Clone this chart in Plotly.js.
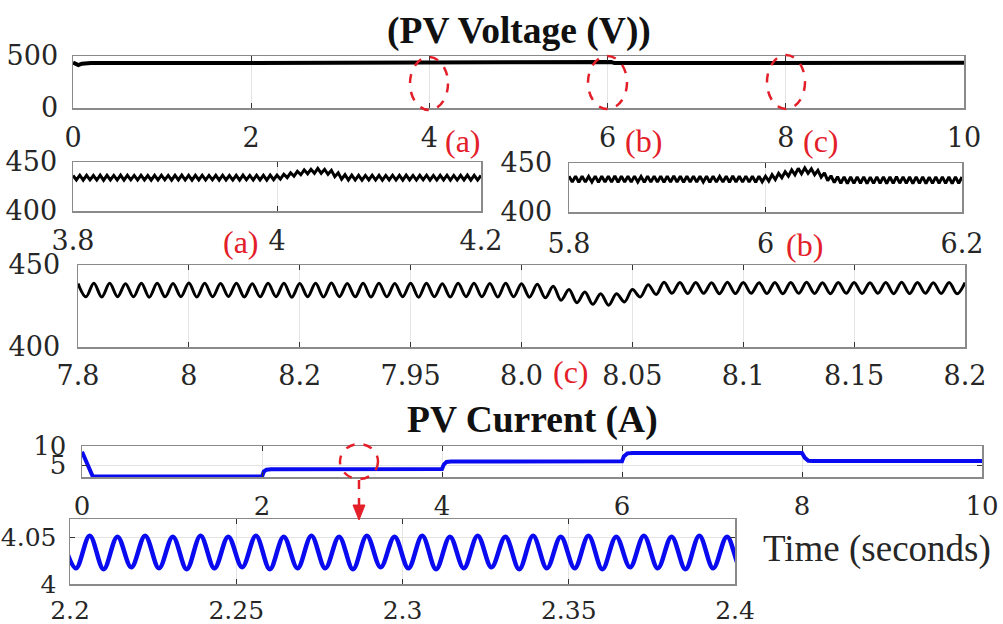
<!DOCTYPE html>
<html>
<head>
<meta charset="utf-8">
<script src="https://cdn.plot.ly/plotly-3.0.1.min.js"></script>
<style>
html,body{margin:0;padding:0;background:#fff;}
#chart{width:1003px;height:624px;}
</style>
</head>
<body>
<div id="chart"></div>
<script>
// ---------------- DATA ----------------
// PV voltage, full run (s, V)
const pvTime = [0, 0.03, 0.06, 0.1, 0.2, 2, 4, 4.04, 4.08, 6, 6.04, 6.08, 8, 8.03, 8.06, 10];
const pvVolt = [438, 420, 412, 426, 432, 433, 434, 440, 434, 433, 442, 432, 434, 427, 436, 436];

// zoom (a): 3.8-4.2 s, successive ripple extrema (V)
const zoomA_t0 = 3.8, zoomA_dt = 0.0033333;
const zoomA = [
436.3,431.7,436.5,431.5,436.4,431.8,436.2,431.6,436.5,431.4,436.4,431.7,436.3,431.6,436.6,431.5,436.4,431.8,436.3,431.6,
436.5,431.7,436.2,431.5,436.4,431.6,436.5,431.8,436.3,431.5,436.4,431.7,436.6,431.6,436.3,431.4,436.4,431.7,436.5,431.6,
436.3,431.8,436.4,431.5,436.5,431.7,436.2,431.6,436.4,431.5,436.6,431.8,436.3,431.6,436.5,431.7,436.4,431.5,436.6,431.9,
436.5,432.5,437.5,434,439,435.5,440.5,437,442,438,442.5,438.5,443.5,438.5,442.5,437.5,441.5,435,439,432.5,437,431.5,436.5,
431.6,436.4,431.5,436.3,431.7,436.5,431.6,436.4,431.4,436.3,431.7,436.5,431.6,436.4,431.5,436.6,431.7,436.3,431.6,436.4,
431.8,436.5,431.5,436.3,431.6,436.4,431.7,436.5,431.5,436.3,431.6,436.4,431.7,436.6,431.5,436.4,431.6,436.3];

// zoom (b): 5.8-6.2 s
const zoomB_t0 = 5.8, zoomB_dt = 0.0033333;
const zoomB = [
436.4,430.6,436.6,430.4,436.5,430.5,436.3,430.7,436.6,430.4,436.5,430.6,436.4,430.5,436.7,430.3,436.5,430.6,436.4,430.5,
436.6,430.7,436.3,430.4,436.5,430.5,436.6,430.6,436.4,430.3,436.5,430.6,436.7,430.5,436.4,430.4,436.5,430.6,436.6,430.5,
436.4,430.7,436.5,430.4,436.6,430.5,436.3,430.6,436.5,430.4,436.7,430.6,436.4,430.5,436.6,430.7,436.5,430.4,436.6,430.8,
436.5,431.5,438,433,439.5,435,441,436.5,443,438,444.5,439,445,439.5,444,438,442.5,435.5,440,432,437,430,436,
429.3,435.8,429.1,435.7,429.2,435.9,429.4,435.8,429.0,435.6,429.2,435.9,429.3,435.8,429.1,435.7,429.2,436.0,429.4,435.8,
429.2,435.7,429.0,435.9,429.3,435.8,429.1,435.6,429.2,435.9,429.4,435.8,429.2,435.7,429.0,435.9,429.3,435.8];

// zoom (c): 7.8-8.2 s
const zoomC_t0 = 7.8, zoomC_dt = 0.0035714;
const zoomC = [
438.7,430.6,438.9,430.5,438.8,430.7,438.6,430.6,438.9,430.4,438.8,430.6,438.7,430.7,439.0,430.5,438.8,430.6,438.7,430.8,
438.9,430.5,438.6,430.6,438.8,430.7,438.9,430.4,438.7,430.6,438.8,430.5,439.0,430.7,438.7,430.6,438.8,430.5,438.9,430.6,
438.7,430.7,438.8,430.4,438.9,430.6,438.6,430.5,438.8,430.7,438.9,430.6,438.7,430.5,438.8,430.6,438.6,430.4,
438.2,430,437,428.5,435,427,433.5,426,432.5,425.5,432.5,427.5,435,430.5,438,432,439.5,432.7,
439.3,432.6,439.4,432.7,439.2,432.5,439.5,432.6,439.3,432.8,439.2,432.6,439.4,432.5,439.3,432.7,439.5,432.6,439.2,432.5,
439.3,432.7,439.4,432.6,439.2,432.8,439.3,432.5,439.5,432.6,439.3,432.7,439.2,432.6,439.4,432.5,439.3];
const zoomC_tickVals = [7.8, 7.85, 7.9, 7.95, 8.0, 8.05, 8.1, 8.15, 8.2];
const zoomC_tickText = ['7.8', '8', '8.2', '7.95', '8.0', '8.05', '8.1', '8.15', '8.2'];

// PV current, full run (s, A)
const ipvTime = [0, 0.12, 2, 2.02, 2.05, 2.1, 4, 4.02, 4.05, 4.1, 6, 6.02, 6.06, 6.12, 8, 8.03, 8.07, 8.12, 10];
const ipvAmp  = [8.5, 2.1, 2.1, 3.4, 3.9, 4.0, 4.05, 5.2, 5.9, 6.0, 6.05, 7.3, 8.1, 8.2, 8.2, 7.0, 6.2, 6.1, 6.1];

// PV current zoom 2.2-2.4 s, ripple extrema (A)
const zoomI_t0 = 2.1976, zoomI_dt = 0.0041667;
const zoomI = [
4.051,4.017,4.052,4.016,4.051,4.018,4.052,4.017,4.051,4.016,4.052,4.017,4.051,4.018,4.052,4.016,4.051,4.017,4.052,4.017,
4.051,4.016,4.052,4.018,4.051,4.017,4.052,4.016,4.051,4.017,4.052,4.018,4.051,4.016,4.052,4.017,4.051,4.017,4.052,4.016,
4.051,4.018,4.052,4.017,4.051,4.016,4.052,4.017,4.051,4.017,4.052];

// ---------------- LAYOUT ----------------
const W = 1003, H = 624;
const F = '"Liberation Serif", "DejaVu Serif", serif';
const TF = '"DejaVu Serif", "Liberation Serif", serif';
const RED = '#e3202a';
const fx = p => p / W;
const fy = p => 1 - p / H;

function ax(extra, fs) {
  return Object.assign({
    showline: true, mirror: 'ticks', linecolor: '#8a8a8a', linewidth: 1.5,
    ticks: 'inside', ticklen: 5, tickwidth: 1, tickcolor: '#333',
    showgrid: true, gridcolor: '#e4e4e4', gridwidth: 1, zeroline: false,
    tickfont: {family: TF, size: fs || 27, color: '#262626'}, fixedrange: true
  }, extra);
}
function xd(a, b) { return [fx(a), fx(b)]; }
function yd(top, bot) { return [fy(bot), fy(top)]; }

const layout = {
  width: W, height: H, margin: {l: 0, r: 0, t: 0, b: 0},
  paper_bgcolor: '#fff', plot_bgcolor: '#fff', showlegend: false,
  font: {family: F, size: 27, color: '#262626'},
  xaxis:  ax({domain: xd(73, 964), anchor: 'y', range: [0, 10], tickvals: [0,2,4,6,8,10], ticklabelstandoff: 5}),
  yaxis:  ax({domain: yd(56, 108), anchor: 'x', range: [0, 500], tickvals: [0, 500], ticklabelstandoff: 8}),
  xaxis2: ax({domain: xd(73, 481), anchor: 'y2', range: [3.8, 4.2], tickvals: [3.8, 4, 4.2], ticklabelstandoff: 5}),
  yaxis2: ax({domain: yd(162, 211), anchor: 'x2', range: [400, 450], tickvals: [400, 450], ticklabelstandoff: 9}),
  xaxis3: ax({domain: xd(569, 962), anchor: 'y3', range: [5.8, 6.2], tickvals: [5.8, 6, 6.2], ticklabelstandoff: 7}),
  yaxis3: ax({domain: yd(163, 212), anchor: 'x3', range: [400, 450], tickvals: [400, 450], ticklabelstandoff: 10}),
  xaxis4: ax({domain: xd(78, 965), anchor: 'y4', range: [7.8, 8.2], tickvals: zoomC_tickVals, ticktext: zoomC_tickText, ticklabelstandoff: 4}),
  yaxis4: ax({domain: yd(265, 347), anchor: 'x4', range: [400, 450], tickvals: [400, 450], ticklabelstandoff: 11}),
  xaxis5: ax({domain: xd(82, 982), anchor: 'y5', range: [0, 10], tickvals: [0,2,4,6,8,10], ticklabelstandoff: 5}, 26),
  yaxis5: ax({domain: yd(446, 477), anchor: 'x5', range: [2, 10], tickvals: [5, 10], ticklabelstandoff: 9}, 26),
  xaxis6: ax({domain: xd(70, 735), anchor: 'y6', range: [2.2, 2.4], tickvals: [2.2, 2.25, 2.3, 2.35, 2.4], ticktext: ['2.2','2.25','2.3','2.35','2.4'], ticklabelstandoff: 3}, 25),
  yaxis6: ax({domain: yd(519, 584), anchor: 'x6', range: [4, 4.07], tickvals: [4, 4.05], ticktext: ['4', '4.05'], ticklabelstandoff: 7}, 25),
  annotations: [],
  shapes: []
};

function txt(x, y, text, size, color, bold, anchor) {
  layout.annotations.push({xref: 'paper', yref: 'paper', x: fx(x), y: fy(y), text: bold ? '<b>' + text + '</b>' : text,
    showarrow: false, xanchor: anchor || 'center', yanchor: 'middle',
    font: {family: F, size: size, color: color}});
}
txt(519, 31, '(PV Voltage (V))', 37.5, '#111', true);
txt(532, 420, 'PV Current (A)', 37.5, '#111', true);
txt(877, 549, 'Time (seconds)', 37, '#262626', false);
txt(463, 141, '(a)', 32, RED);
txt(643, 141, '(b)', 32, RED);
txt(821, 141, '(c)', 32, RED);
txt(241, 242, '(a)', 32, RED);
txt(804, 245, '(b)', 32, RED);
txt(571, 372, '(c)', 32, RED);

function ell(x0, x1, y0, y1) {
  layout.shapes.push({type: 'circle', xref: 'paper', yref: 'paper', x0: fx(x0), x1: fx(x1), y0: fy(y1), y1: fy(y0),
    line: {color: RED, width: 2.5, dash: 'dash'}});
}
ell(410, 448, 57, 110);
ell(588, 627, 56, 109);
ell(767, 805, 55, 109);
ell(340, 378, 444, 479);
layout.shapes.push({type: 'line', xref: 'paper', yref: 'paper', x0: fx(359), x1: fx(359), y0: fy(480), y1: fy(508),
  line: {color: RED, width: 2.5, dash: 'dash'}});
layout.shapes.push({type: 'path', xref: 'paper', yref: 'paper',
  path: 'M' + fx(353) + ',' + fy(505) + ' L' + fx(365) + ',' + fy(505) + ' L' + fx(359) + ',' + fy(520) + ' Z',
  fillcolor: RED, line: {color: RED, width: 1}});

const traces = [
  {x: pvTime, y: pvVolt, xaxis: 'x', yaxis: 'y', mode: 'lines', line: {color: '#000', width: 4}},
  {y: zoomA, x0: zoomA_t0, dx: zoomA_dt, xaxis: 'x2', yaxis: 'y2', mode: 'lines', line: {color: '#000', width: 3}},
  {y: zoomB, x0: zoomB_t0, dx: zoomB_dt, xaxis: 'x3', yaxis: 'y3', mode: 'lines', line: {color: '#000', width: 3}},
  {y: zoomC, x0: zoomC_t0, dx: zoomC_dt, xaxis: 'x4', yaxis: 'y4', mode: 'lines', line: {color: '#000', width: 3, shape: 'spline'}},
  {x: ipvTime, y: ipvAmp, xaxis: 'x5', yaxis: 'y5', mode: 'lines', line: {color: '#0a0af0', width: 4}},
  {y: zoomI, x0: zoomI_t0, dx: zoomI_dt, xaxis: 'x6', yaxis: 'y6', mode: 'lines', line: {color: '#0a0af0', width: 4.5, shape: 'spline'}}
];

Plotly.newPlot('chart', traces, layout, {displayModeBar: false, staticPlot: true});
</script>
</body>
</html>
